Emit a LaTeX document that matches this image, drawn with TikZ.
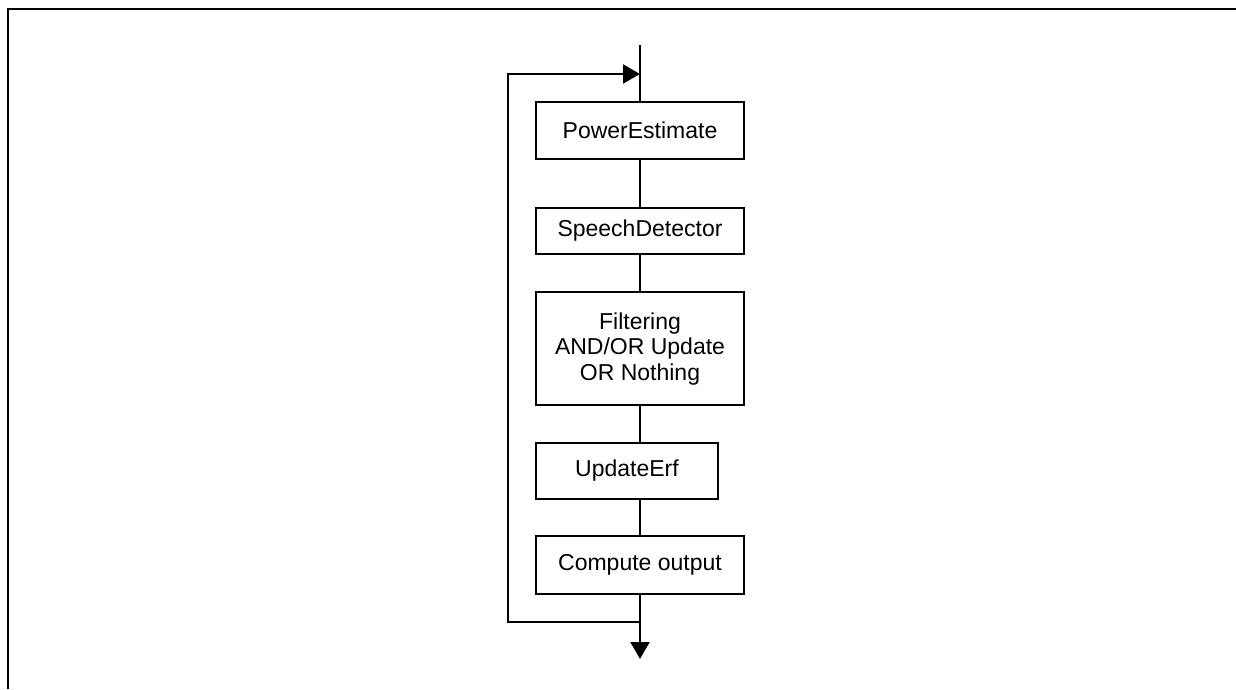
\documentclass[tikz,border=0pt]{standalone}
\usepackage{fontspec}
\setmainfont{Liberation Sans}
\usetikzlibrary{arrows.meta}
\begin{document}
\begin{tikzpicture}[x=1pt,y=-1pt,
  line/.style={line width=2pt},
  blk/.style={draw, line width=2pt, inner sep=0pt, align=center,
    font=\fontsize{23}{25.5}\selectfont},
  tip/.style={-{Triangle[length=17pt,width=19pt]}}]
\useasboundingbox (0,0) rectangle (1236,689);
% open frame: top and left edges only
\draw[line] (7.5,689) -- (7.5,9) -- (1236,9);

% processing steps
\node[blk, minimum width=208pt, minimum height=57pt]   (pe)  at (640,130.5) {PowerEstimate};
\node[blk, minimum width=208pt, minimum height=46pt]   (sd)  at (640,230.5) {SpeechDetector};
\node[blk, minimum width=208pt, minimum height=113.5pt](flt) at (640,348.7) {Filtering\\AND/OR Update\\OR Nothing};
\node[blk, minimum width=182pt, minimum height=56pt]   (ue)  at (627,471)   {UpdateErf};
\node[blk, minimum width=208pt, minimum height=58.5pt] (co)  at (640,565.2) {Compute output};

% entry, exit and loop-back points
\coordinate (in)  at (640,45);
\coordinate (out) at (640,659);
\coordinate (jt)  at (640,74);
\coordinate (jb)  at (640,622);
\coordinate (lt)  at (507.5,74);
\coordinate (lb)  at (507.5,622);

% main flow
\draw[line] (in) -- (pe.north);
\draw[line] (pe.south) -- (sd.north);
\draw[line] (sd.south) -- (flt.north);
\draw[line] (flt.south) -- (flt.south |- ue.north);
\draw[line] (co.north |- ue.south) -- (co.north);
\draw[line,tip] (co.south) -- (out);

% loop back to the start
\draw[line,tip] (jb) -- (lb) -- (lt) -- (jt);
\end{tikzpicture}
\end{document}
